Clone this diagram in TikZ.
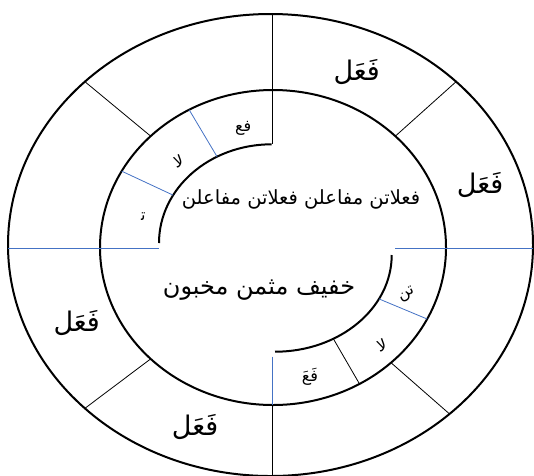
\documentclass[tikz,border=0pt]{standalone}
\usepackage{fontspec}
\newfontfamily\arabicfont[Script=Arabic]{DejaVu Sans}
\TeXXeTstate=1
\definecolor{cutblue}{HTML}{4472C4}
\tikzset{
  ring/.style={line width=2pt},
  cut/.style={line width=0.8pt},
  bluecut/.style={line width=0.8pt, cutblue},
  footbig/.style={font=\arabicfont\fontsize{27}{31}\selectfont},
  footpart/.style={font=\arabicfont\fontsize{16}{19}\selectfont},
}

\begin{document}
\begin{tikzpicture}[x=1pt, y=1pt]
  \useasboundingbox (0,-475) rectangle (534,0);
  \clip (0,-475) rectangle (534,0);
  % centres of the rings
  \coordinate (oc) at (270.5,-245);
  \coordinate (mc) at (273,-247.5);
  \coordinate (tc) at (271.7,-243);
  \coordinate (bc) at (275,-255);
  \draw[ring] (oc) ellipse [x radius=262.5pt, y radius=231pt];
  \draw[ring] (mc) ellipse [x radius=173pt, y radius=157.5pt];
  \draw[ring] ([shift={(90:112.7pt and 98.7pt)}]tc)
    arc [start angle=90, end angle=180, x radius=112.7pt, y radius=98.7pt];
  \draw[ring] ([shift={(0:116.7pt and 96.7pt)}]bc)
    arc [start angle=0, end angle=-90, x radius=116.7pt, y radius=96.7pt];
  % axes
  \draw[cut] (272.7,-14) -- (272.7,-144.3);
  \draw[bluecut] (272.7,-356.7) -- (272.7,-405);
  \draw[cut] (272.7,-405) -- (272.7,-476);
  \draw[bluecut] (8,-248.5) -- (159,-248.5);
  \draw[bluecut] (395,-248.5) -- (533,-248.5);
  % outer ring
  \draw[cut] ([shift={(45:173pt and 157.5pt)}]mc) -- ([shift={(45:262.5pt and 231pt)}]oc);
  \draw[cut] ([shift={(135:173pt and 157.5pt)}]mc) -- ([shift={(135:262.5pt and 231pt)}]oc);
  \draw[cut] ([shift={(225:173pt and 157.5pt)}]mc) -- ([shift={(225:262.5pt and 231pt)}]oc);
  \draw[cut] ([shift={(-47:173pt and 157.5pt)}]mc) -- ([shift={(-47:262.5pt and 231pt)}]oc);
  % inner ring
  \draw[bluecut] ([shift={(119:112.7pt and 98.7pt)}]tc) -- ([shift={(119:173pt and 157.5pt)}]mc);
  \draw[bluecut] ([shift={(151:112.7pt and 98.7pt)}]tc) -- ([shift={(151:173pt and 157.5pt)}]mc);
  \draw[bluecut] ([shift={(-27:116.7pt and 96.7pt)}]bc) -- ([shift={(-27:173pt and 157.5pt)}]mc);
  \draw[cut] ([shift={(-60:116.7pt and 96.7pt)}]bc) -- ([shift={(-60:173pt and 157.5pt)}]mc);
  % labels
  \node[footbig] (fa1) at (356.7,-71.7) {\beginR فَعَل\endR};
  \node[footbig] (fa2) at (480,-185) {\beginR فَعَل\endR};
  \node[footbig] (fa3) at (76.7,-323) {\beginR فَعَل\endR};
  \node[footbig] (fa4) at (195,-426.7) {\beginR فَعَل\endR};
  \node[footpart] (fi) at (243.3,-128.3) {\beginR فع\endR};
  \node[footpart, rotate=20] (la1) at (178.3,-161.7) {\beginR لا\endR};
  \node[footpart] (ta) at (143.3,-216.7) {\beginR ت^^^^200d\endR};
  \node[footpart, rotate=30] (tan) at (406.7,-295) {\beginR تن\endR};
  \node[footpart, rotate=20] (la2) at (381.7,-345) {\beginR لا\endR};
  \node[footpart] (fae) at (310,-376.7) {\beginR فَعَ\endR};
  \node[font=\arabicfont\fontsize{19.5}{23}\selectfont] (feet) at (301,-199)
    {\beginR فعلاتن مفاعلن فعلاتن مفاعلن\endR};
  \node[font=\arabicfont\fontsize{24}{28}\selectfont] (name) at (259,-290)
    {\beginR خفيف مثمن مخبون\endR};
\end{tikzpicture}
\end{document}
